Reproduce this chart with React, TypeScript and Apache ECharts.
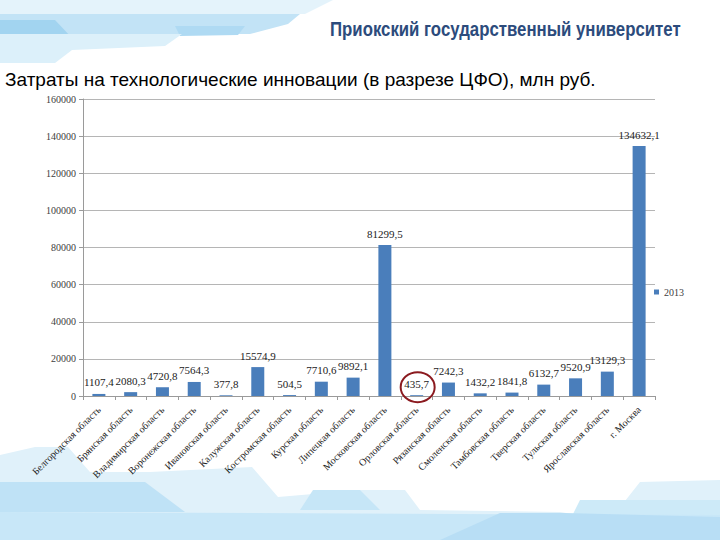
import React, { useEffect, useRef } from 'react';
import * as echarts from 'echarts';

const categories = [
  'Белгородская область',
  'Брянская область',
  'Владимирская область',
  'Воронежская область',
  'Ивановская область',
  'Калужская область',
  'Костромская область',
  'Курская область',
  'Липецкая область',
  'Московская область',
  'Орловская область',
  'Рязанская область',
  'Смоленская область',
  'Тамбовская область',
  'Тверская область',
  'Тульская область',
  'Ярославская область',
  'г. Москва',
];

const values2013 = [
  1107.4, 2080.3, 4720.8, 7564.3, 377.8, 15574.9, 504.5, 7710.6, 9892.1,
  81299.5, 435.7, 7242.3, 1432.2, 1841.8, 6132.7, 9520.9, 13129.3, 134632.1,
];

const seriesName = '2013';
const highlightIndex = 10;
const titleText = 'Затраты на технологические инновации (в разрезе ЦФО), млн руб.';
const headerText = 'Приокский государственный университет';

const fmt = (v: number) => v.toFixed(1).replace('.', ',');

const deco = (points: number[][], fill: string) => ({
  type: 'polygon',
  z: -10,
  silent: true,
  shape: { points },
  style: { fill },
});

export default function App() {
  const ref = useRef<HTMLDivElement>(null);
  useEffect(() => {
    const chart = echarts.init(ref.current!, null, { renderer: 'svg' });
    const serif = 'Liberation Serif, Times New Roman, serif';
    const headerFont = 'bold 20px "Liberation Sans", Arial, sans-serif';
    let headerW = 430;
    try {
      const ctx = document.createElement('canvas').getContext('2d');
      if (ctx) {
        ctx.font = headerFont;
        headerW = ctx.measureText(headerText).width || headerW;
      }
    } catch (e) {}
    const headerScale = 351 / headerW;
    const decorations = [
      // top-left
      deco([[0, 0], [333, 0], [305, 14], [0, 14]], '#e4f3fb'),
      deco([[0, 14], [300, 14], [288, 24], [250, 34], [0, 34]], '#c2e3f6'),
      deco([[0, 20], [55, 20], [72, 38], [0, 38]], '#a2d4f0'),
      deco([[175, 26], [245, 26], [238, 35], [180, 36]], '#afdaf3'),
      deco([[0, 34], [182, 34], [165, 46], [72, 50], [55, 63], [0, 63]], '#dcf0fa'),
      // bottom
      deco([[0, 455], [35, 447], [68, 447], [90, 472], [150, 472], [252, 467], [278, 497], [360, 490], [405, 490], [420, 510], [560, 512], [610, 520], [640, 482], [720, 480], [720, 540], [0, 540]], '#e0f1fa'),
      deco([[0, 482], [145, 482], [185, 512], [0, 512]], '#bfe2f6'),
      deco([[313, 490], [360, 490], [380, 510], [300, 510]], '#c6e6f7'),
      deco([[580, 500], [720, 500], [720, 520], [570, 520]], '#cdeaf8'),
      deco([[0, 512], [720, 515], [720, 540], [0, 540]], '#c8e7f8'),
      deco([[440, 540], [500, 513], [565, 513], [720, 517], [720, 540]], '#b8def5'),
      {
        type: 'text',
        x: 330,
        y: 19,
        scaleX: headerScale,
        scaleY: 1,
        style: {
          text: headerText,
          fill: '#2c4b7c',
          font: headerFont,
        },
      },
    ];
    chart.setOption({
      animation: false,
      backgroundColor: '#ffffff',
      title: {
        text: titleText,
        left: 5,
        top: 70,
        padding: 0,
        textStyle: {
          fontFamily: 'Liberation Sans, Arial, sans-serif',
          fontSize: 19,
          fontWeight: 'normal',
          color: '#000',
        },
      },
      legend: {
        data: [seriesName],
        left: 654,
        top: 287,
        padding: 0,
        orient: 'vertical',
        icon: 'rect',
        itemWidth: 5,
        itemHeight: 5,
        itemGap: 4,
        textStyle: { fontFamily: serif, fontSize: 10, color: '#404040' },
      },
      grid: { left: 83, right: 65, top: 99, bottom: 144, containLabel: false },
      xAxis: {
        type: 'category',
        data: categories,
        axisLine: { lineStyle: { color: '#9a9a9a' } },
        axisTick: { show: true, length: 4, lineStyle: { color: '#9a9a9a' } },
        axisLabel: {
          interval: 0,
          rotate: 45,
          fontFamily: serif,
          fontSize: 10,
          color: '#222',
          margin: 12,
        },
      },
      yAxis: {
        type: 'value',
        min: 0,
        max: 160000,
        interval: 20000,
        axisLine: { show: true, lineStyle: { color: '#9a9a9a' } },
        axisTick: { show: true, length: 4, lineStyle: { color: '#9a9a9a' } },
        splitLine: { lineStyle: { color: '#b5b5b5' } },
        axisLabel: {
          fontFamily: serif,
          fontSize: 10,
          color: '#404040',
          margin: 7,
          formatter: (v: number) => String(v),
        },
      },
      series: [
        {
          name: seriesName,
          type: 'bar',
          data: values2013,
          barWidth: 13,
          itemStyle: { color: '#4a7ebb' },
          label: {
            show: true,
            position: 'top',
            distance: 6,
            fontFamily: serif,
            fontSize: 11,
            color: '#222',
            formatter: (p: any) => fmt(p.value),
          },
        },
      ],
      graphic: decorations,
    });
    const pt = chart.convertToPixel({ gridIndex: 0 }, [highlightIndex, values2013[highlightIndex]]) as number[];
    chart.setOption({
      graphic: [
        ...decorations,
        {
          type: 'ellipse',
          z: 100,
          silent: true,
          shape: { cx: pt[0] + 1, cy: pt[1] - 8, rx: 17, ry: 15 },
          style: { fill: 'none', stroke: '#8b1a1f', lineWidth: 2 },
        },
      ],
    });
    return () => chart.dispose();
  }, []);
  return (
    <div
      ref={ref}
      style={{ position: 'fixed', left: 0, top: 0, width: 720, height: 540, background: '#fff' }}
    />
  );
}
